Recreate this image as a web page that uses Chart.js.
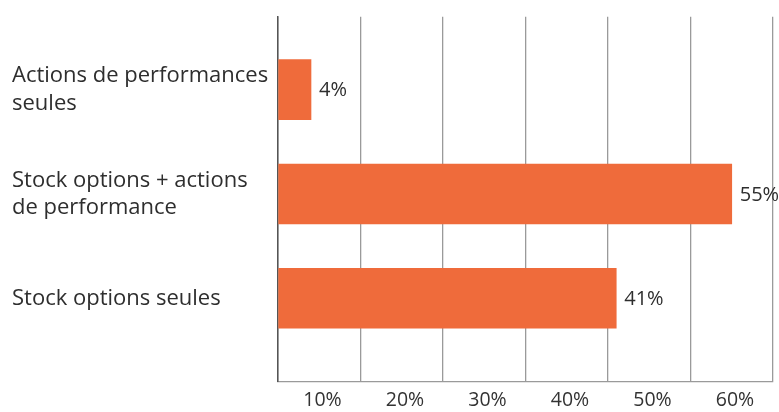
<!DOCTYPE html>
<html>
<head>
<meta charset="utf-8">
<script src="https://cdn.jsdelivr.net/npm/chart.js@4.4.0/dist/chart.umd.min.js"></script>
<style>
  html, body { margin: 0; padding: 0; background: #fff; }
  #wrap { width: 779px; height: 412px; }
</style>
</head>
<body>
<div id="wrap"><canvas id="chart"></canvas></div>
<script>
// ===== DATA =====
const categories = [
  ['Actions de performances', 'seules'],
  ['Stock options + actions', 'de performance'],
  ['Stock options seules']
];
const shares = [4, 55, 41];
const xTicks = [0, 10, 20, 30, 40, 50, 60];

const BAR = '#ef6b3b';
const TEXT = '#2e2e2e';
const FONT = 'Open Sans';

// value labels to the right of each bar
const valueLabels = {
  id: 'valueLabels',
  afterDatasetsDraw(chart) {
    const ctx = chart.ctx;
    const meta = chart.getDatasetMeta(0);
    ctx.save();
    ctx.font = '20px "' + FONT + '"';
    ctx.fillStyle = TEXT;
    ctx.textBaseline = 'middle';
    ctx.textAlign = 'left';
    meta.data.forEach((bar, i) => {
      ctx.fillText(shares[i] + '%', bar.x + 8, bar.y + 1);
    });
    ctx.restore();
  }
};

new Chart(document.getElementById('chart'), {
  type: 'bar',
  data: {
    datasets: [{
      data: shares.map((v, i) => ({ x: v, y: i })),
      backgroundColor: BAR,
      borderWidth: 0,
      barThickness: 60
    }]
  },
  options: {
    indexAxis: 'y',
    responsive: true,
    maintainAspectRatio: false,
    animation: false,
    layout: { padding: { left: 12, top: 13, right: 6, bottom: 0 } },
    plugins: { legend: { display: false }, tooltip: { enabled: false } },
    scales: {
      x: {
        type: 'linear',
        min: 0,
        max: 60,
        afterBuildTicks: s => { s.ticks = xTicks.map(v => ({ value: v })); },
        afterFit: s => { s.paddingLeft = 0; s.paddingRight = 0; s.height = 30; },
        grid: { color: '#9a9a9a', lineWidth: 1.3, drawTicks: false },
        border: { color: '#9a9a9a', width: 1.3 },
        ticks: {
          color: '#333',
          font: { family: FONT, size: 19.5 },
          padding: 7,
          labelOffset: -38,
          maxRotation: 0,
          autoSkip: false,
          callback: v => v === 0 ? '' : v + '%'
        }
      },
      y: {
        type: 'linear',
        reverse: true,
        offset: false,
        min: -0.70,
        max: 2.80,
        afterBuildTicks: s => { s.ticks = categories.map((c, i) => ({ value: i })); },
        afterFit: s => { s.width = 266; },
        grid: { display: false },
        border: { color: '#555', width: 1.5 },
        ticks: {
          color: TEXT,
          crossAlign: 'far',
          autoSkip: false,
          font: { family: FONT, size: 22, lineHeight: 1.24 },
          callback: v => categories[v]
        }
      }
    }
  },
  plugins: [valueLabels]
});
</script>
</body>
</html>
